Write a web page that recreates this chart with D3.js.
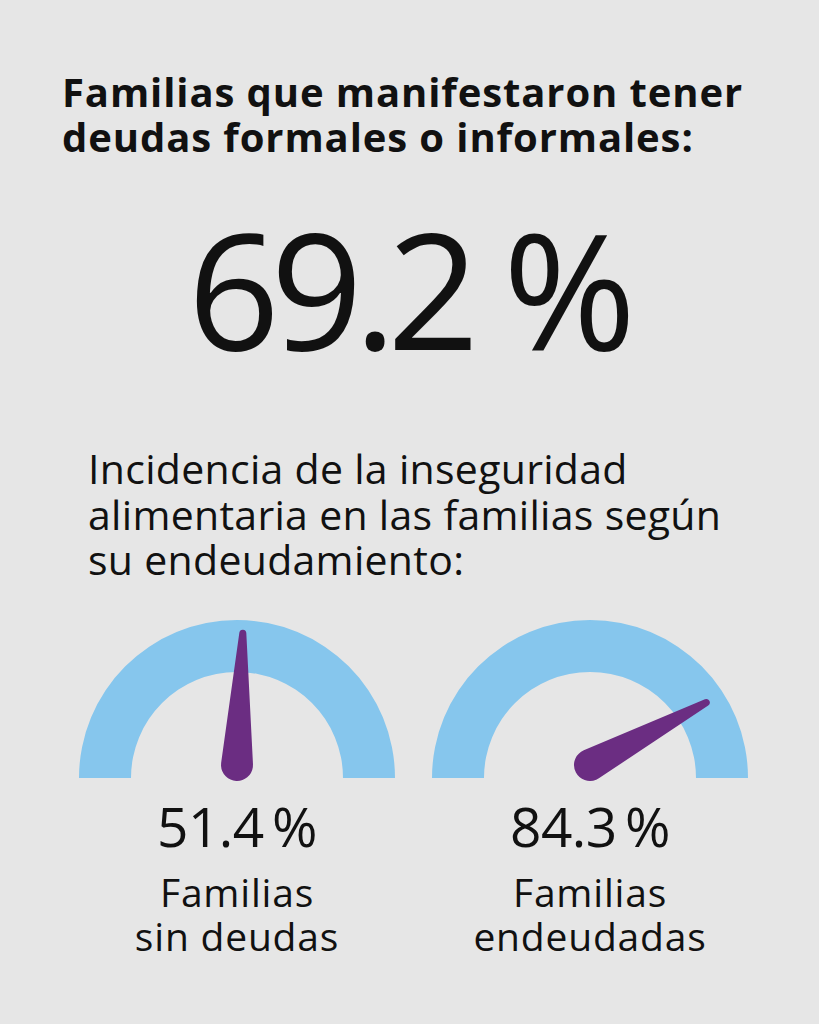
<!DOCTYPE html>
<html>
<head>
<meta charset="utf-8">
<script src="https://cdn.jsdelivr.net/npm/d3@7"></script>
<style>
  html, body { margin: 0; padding: 0; background: #e6e6e6; }
  svg { display: block; font-family: "Open Sans", sans-serif; }
</style>
</head>
<body>
<svg id="chart" width="819" height="1024"></svg>
<script>
// datos
var titleLines = ["Familias que manifestaron tener", "deudas formales o informales:"];
var headlineValue = 69.2;
var subtitleLines = ["Incidencia de la inseguridad", "alimentaria en las familias según", "su endeudamiento:"];
var gaugeValues = [51.4, 84.3];
var gaugeLabels = [["Familias", "sin deudas"], ["Familias", "endeudadas"]];

var svg = d3.select("#chart"),
    width = 819,
    height = 1024;

var fmt = d => d3.format(".1f")(d) + "\u2009%";

svg.append("rect").attr("width", width).attr("height", height).attr("fill", "#e6e6e6");

// titulo
svg.append("g").selectAll("text")
    .data(titleLines)
    .join("text")
    .attr("x", 62)
    .attr("y", (d, i) => 107 + i * 45)
    .attr("font-size", 40)
    .attr("font-weight", 700)
    .attr("letter-spacing", 0.9)
    .attr("fill", "#111")
    .text(d => d);

svg.append("text")
    .attr("x", width / 2 - 2)
    .attr("y", 350)
    .attr("text-anchor", "middle")
    .attr("font-size", 161)
    .attr("letter-spacing", -9)
    .attr("fill", "#111")
    .text(d3.format(".1f")(headlineValue) + " %");

svg.append("g").selectAll("text")
    .data(subtitleLines)
    .join("text")
    .attr("x", 88)
    .attr("y", (d, i) => 484 + i * 45.5)
    .attr("font-size", 41)
    .attr("letter-spacing", 0.3)
    .attr("fill", "#111")
    .text(d => d);

// gauges
var cx = d3.scalePoint().domain(d3.range(gaugeValues.length)).range([237, 590]),
    cy = 778,
    rOuter = 158,
    rInner = 106;

var angle = d3.scaleLinear().domain([0, 100]).range([-90, 90]);

var arc = d3.arc()
    .innerRadius(rInner)
    .outerRadius(rOuter)
    .startAngle(-Math.PI / 2)
    .endAngle(Math.PI / 2);

// aguja: circulo en el pivote, punta redondeada, lados tangentes
function needlePath(r1, r2, len) {
    var s = (r1 - r2) / len,
        a = Math.asin(s),
        p = d3.path();
    // puntos de tangencia (aguja apuntando hacia arriba, -y)
    var x1 = r1 * Math.cos(a), y1 = -r1 * Math.sin(a),
        x2 = r2 * Math.cos(a), y2 = -len - r2 * Math.sin(a);
    p.moveTo(x1, y1);
    p.lineTo(x2, y2);
    p.arc(0, -len, r2, -a, Math.PI + a, true);
    p.lineTo(-x1, y1);
    p.arc(0, 0, r1, Math.PI - a, a, true);
    p.closePath();
    return p.toString();
}

var gauge = svg.append("g").selectAll("g")
    .data(gaugeValues)
    .join("g")
    .attr("transform", (d, i) => `translate(${cx(i)},${cy})`);

gauge.append("path")
    .attr("d", arc)
    .attr("fill", "#86c6ed");

gauge.append("path")
    .attr("d", needlePath(16, 3.5, 132))
    .attr("fill", "#6b2d82")
    .attr("transform", d => `translate(0,-13) rotate(${angle(d)})`);

gauge.append("text")
    .attr("y", 847)
    .attr("text-anchor", "middle")
    .attr("font-size", 55)
    .attr("letter-spacing", -0.6)
    .attr("fill", "#111")
    .attr("transform", `translate(0,${-cy})`)
    .text(d => fmt(d));

gauge.each(function(d, i) {
    d3.select(this).append("g")
        .attr("transform", `translate(0,${-cy})`)
        .selectAll("text")
        .data(gaugeLabels[i])
        .join("text")
        .attr("y", (t, j) => 907 + j * 44)
        .attr("text-anchor", "middle")
        .attr("font-size", 39)
        .attr("letter-spacing", 0.8)
        .attr("fill", "#111")
        .text(t => t);
});
</script>
</body>
</html>
